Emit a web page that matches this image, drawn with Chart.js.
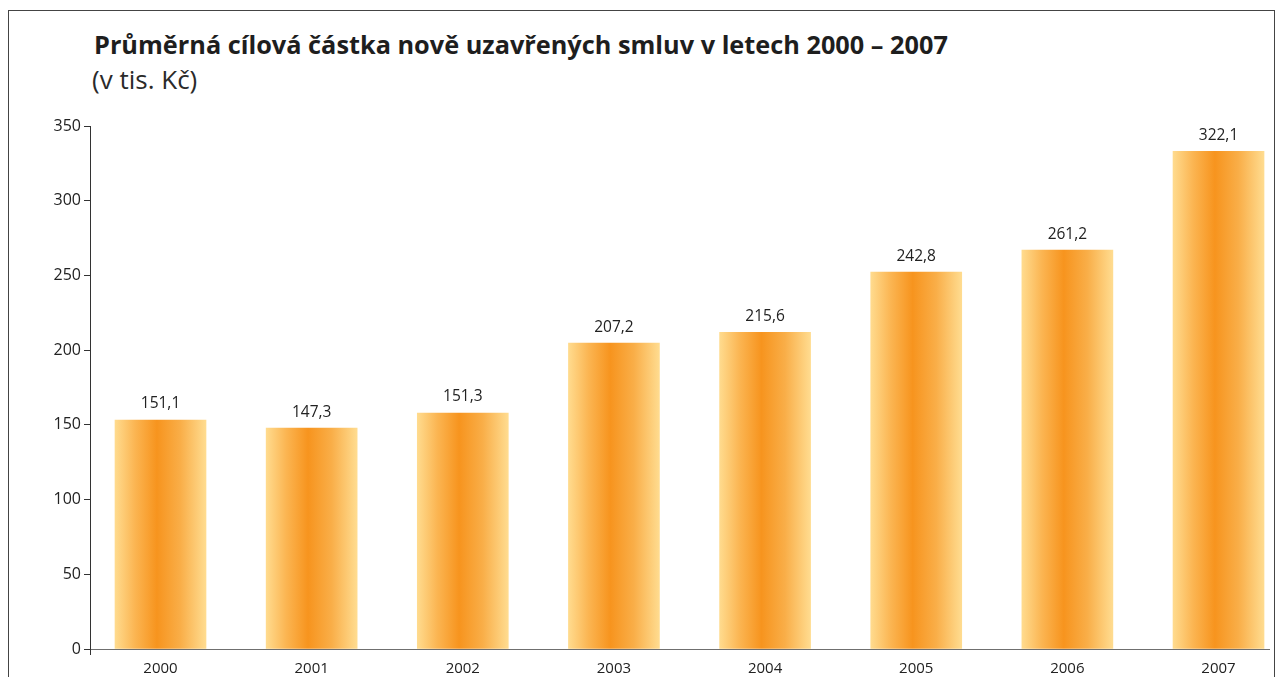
<!DOCTYPE html>
<html lang="cs">
<head>
<meta charset="utf-8">
<script src="https://cdn.jsdelivr.net/npm/chart.js@4.4.1/dist/chart.umd.min.js"></script>
<style>
  html, body { margin: 0; padding: 0; background: #fff; overflow: hidden; }
  body { width: 1281px; height: 677px; position: relative; font-family: "Open Sans", sans-serif; color: #222; }
  .frame { position: absolute; left: 8px; top: 10px; width: 1267px; height: 700px;
           border: 1.5px solid #444; border-bottom: none; box-sizing: border-box; }
  .title { position: absolute; left: 94px; top: 27px; font-weight: bold; font-size: 25.3px; white-space: nowrap; color: #1e1e1e; }
  .subtitle { position: absolute; left: 92px; top: 61px; font-size: 26px; white-space: nowrap; color: #2a2a2a; }
  .wrap { position: absolute; left: 0; top: 0; width: 1281px; height: 677px; }
</style>
</head>
<body>
<div class="frame"></div>
<div class="title">Průměrná cílová částka nově uzavřených smluv v letech 2000 – 2007</div>
<div class="subtitle">(v tis. Kč)</div>
<div class="wrap"><canvas id="chart"></canvas></div>
<script>
// years on the x axis
const years = [2000, 2001, 2002, 2003, 2004, 2005, 2006, 2007];
// bar heights as drawn in the picture (they don't quite match the printed numbers)
const barValues = [153.2, 147.8, 157.9, 204.7, 212.0, 252.2, 266.9, 333.1];
// numbers printed above the bars
const valueLabels = ['151,1', '147,3', '151,3', '207,2', '215,6', '242,8', '261,2', '322,1'];
// y axis
const yMin = 0, yMax = 350, yStep = 50;

const BAR_W = 91;

function barGradient(ctx) {
  const chart = ctx.chart;
  const xs = chart.scales && chart.scales.x;
  if (ctx.type !== 'data' || !chart.chartArea || !xs) return '#f9a436';
  const cx = xs.getPixelForValue(years[ctx.dataIndex]);
  const g = chart.ctx.createLinearGradient(cx - BAR_W / 2, 0, cx + BAR_W / 2, 0);
  g.addColorStop(0, '#ffdb8e');
  g.addColorStop(0.22, '#fbb552');
  g.addColorStop(0.46, '#f7941e');
  g.addColorStop(0.72, '#f9ae48');
  g.addColorStop(1, '#ffdc90');
  return g;
}

const valueLabelPlugin = {
  id: 'valueLabels',
  afterDatasetsDraw(chart) {
    const ctx = chart.ctx;
    const meta = chart.getDatasetMeta(0);
    ctx.save();
    ctx.font = '15.5px "Open Sans", sans-serif';
    ctx.fillStyle = '#222';
    ctx.textAlign = 'center';
    ctx.textBaseline = 'middle';
    meta.data.forEach((bar, i) => {
      ctx.fillText(valueLabels[i], bar.x, bar.y - 16);
    });
    // little stub of the y axis below the x axis
    const x0 = chart.chartArea.left, y0 = chart.chartArea.bottom;
    ctx.strokeStyle = '#333';
    ctx.lineWidth = 1;
    ctx.beginPath();
    ctx.moveTo(x0 + 0.5, y0);
    ctx.lineTo(x0 + 0.5, y0 + 6);
    ctx.stroke();
    ctx.restore();
  }
};

new Chart(document.getElementById('chart'), {
  type: 'bar',
  data: {
    datasets: [{
      data: years.map((yr, i) => ({ x: yr, y: barValues[i] })),
      backgroundColor: barGradient,
      borderWidth: 0,
      barThickness: BAR_W
    }]
  },
  options: {
    responsive: true,
    maintainAspectRatio: false,
    animation: false,
    layout: { padding: { left: 54, right: 12, top: 126, bottom: 0 } },
    plugins: {
      legend: { display: false },
      tooltip: { enabled: false }
    },
    scales: {
      x: {
        type: 'linear',
        offset: false,
        min: 1999.5335,
        max: 2007.334,
        afterFit(scale) { scale.height = 28; },
        grid: { display: false },
        border: { display: true, color: '#6f6f6f', width: 1 },
        ticks: {
          stepSize: 1,
          includeBounds: false,
          autoSkip: false,
          maxRotation: 0,
          padding: 3,
          color: '#222',
          font: { family: 'Open Sans', size: 15 },
          callback: v => String(v)
        }
      },
      y: {
        min: yMin,
        max: yMax,
        afterFit(scale) { scale.width = 36; },
        grid: { drawOnChartArea: false, tickLength: 6, color: '#333', tickWidth: 1 },
        border: { display: true, color: '#333', width: 1 },
        ticks: {
          stepSize: yStep,
          padding: 3,
          color: '#222',
          font: { family: 'Open Sans', size: 16 }
        }
      }
    }
  },
  plugins: [valueLabelPlugin]
});
</script>
</body>
</html>
